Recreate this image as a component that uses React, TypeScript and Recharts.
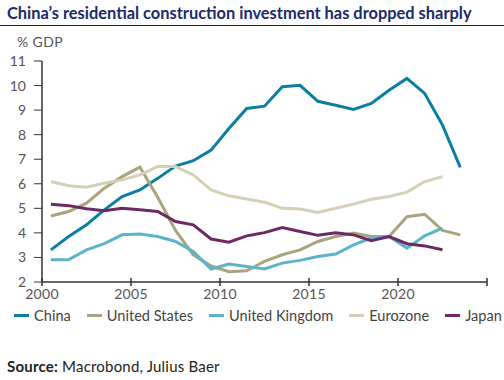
import React from 'react';
import { LineChart, Line, XAxis, YAxis } from 'recharts';

const years = [2000, 2001, 2002, 2003, 2004, 2005, 2006, 2007, 2008, 2009, 2010, 2011,
  2012, 2013, 2014, 2015, 2016, 2017, 2018, 2019, 2020, 2021, 2022, 2023];

const china = [3.31, 3.85, 4.33, 4.94, 5.48, 5.75, 6.22, 6.72, 6.94, 7.37, 8.25, 9.07,
  9.16, 9.95, 10.01, 9.36, 9.2, 9.03, 9.27, 9.81, 10.29, 9.68, 8.39, 6.67];
const unitedStates = [4.69, 4.87, 5.21, 5.82, 6.29, 6.68, 5.45, 4.1, 3.1, 2.65, 2.42, 2.46,
  2.84, 3.11, 3.31, 3.65, 3.85, 3.99, 3.85, 3.85, 4.66, 4.76, 4.1, 3.92];
const unitedKingdom = [2.91, 2.91, 3.31, 3.56, 3.92, 3.95, 3.85, 3.65, 3.24, 2.53, 2.73, 2.63,
  2.53, 2.77, 2.88, 3.04, 3.14, 3.51, 3.79, 3.85, 3.38, 3.88, 4.19];
const eurozone = [6.09, 5.92, 5.86, 6.02, 6.16, 6.36, 6.7, 6.7, 6.36, 5.75, 5.51, 5.38,
  5.25, 5.0, 4.97, 4.83, 5.0, 5.17, 5.37, 5.48, 5.66, 6.09, 6.29];
const japan = [5.17, 5.11, 4.98, 4.9, 5.0, 4.94, 4.87, 4.46, 4.33, 3.75, 3.62, 3.88,
  4.01, 4.22, 4.06, 3.9, 4.01, 3.92, 3.68, 3.85, 3.56, 3.47, 3.31];

const xTicks = [2000, 2005, 2010, 2015, 2020, 2025];
const yTicks = [2, 3, 4, 5, 6, 7, 8, 9, 10, 11];

const SERIES = [
  { key: 'China', values: china, color: '#0b7fa1' },
  { key: 'United States', values: unitedStates, color: '#aaa37b' },
  { key: 'United Kingdom', values: unitedKingdom, color: '#5cb4ca' },
  { key: 'Eurozone', values: eurozone, color: '#d5d0b5' },
  { key: 'Japan', values: japan, color: '#6c2964' },
];

// annual values are plotted mid-year
const data = years.map((y, i) => {
  const row: Record<string, any> = { year: y + 0.5 };
  SERIES.forEach((s) => { row[s.key] = s.values[i]; });
  return row;
});

const FONT = 'Lato, "Open Sans", sans-serif';
const AXIS = '#333';

function XTick(props: any) {
  const { x, y, payload } = props;
  return (
    <g>
      <line x1={x} x2={x} y1={y - 4} y2={y + 4} stroke={AXIS} strokeWidth={1.5} />
      {payload.value !== 2025 && (
        <text x={x} y={y + 13} textAnchor="middle" dominantBaseline="middle" fill="#555" fontSize={14} letterSpacing={0.3} fontFamily={FONT}>
          {payload.value}
        </text>
      )}
    </g>
  );
}

export default function App() {
  return (
    <div style={{ position: 'absolute', left: 0, top: 0, width: 504, height: 380, background: '#fff', fontFamily: FONT }}>
      <div style={{ position: 'absolute', left: 7, top: 3, fontSize: 16.4, fontWeight: 700, color: '#1b2a6b', whiteSpace: 'nowrap' }}>
        China’s residential construction investment has dropped sharply
      </div>
      <div style={{ position: 'absolute', left: 0, top: 25, width: 504, height: 1, background: '#222' }} />
      <div style={{ position: 'absolute', left: 17, top: 33, fontSize: 14, letterSpacing: 0.4, color: '#555' }}>% GDP</div>

      <div style={{ position: 'absolute', left: 0, top: 0 }}>
        <LineChart width={504} height={320} data={data} margin={{ top: 61, right: 17, left: 0, bottom: 0 }}>
          <XAxis
            dataKey="year"
            type="number"
            domain={[2000, 2025]}
            ticks={xTicks}
            height={38}
            tickSize={0}
            tickMargin={0}
            tick={<XTick />}
            axisLine={{ stroke: AXIS, strokeWidth: 1.5 }}
            allowDataOverflow
          />
          <YAxis
            type="number"
            domain={[2, 11]}
            ticks={yTicks}
            width={42}
            tickSize={8}
            tickMargin={8}
            interval={0}
            tick={{ fill: '#555', fontSize: 14, fontFamily: FONT }}
            tickLine={{ stroke: AXIS, strokeWidth: 1 }}
            axisLine={{ stroke: AXIS, strokeWidth: 1.5 }}
          />
          {SERIES.map((s) => (
            <Line
              key={s.key}
              type="linear"
              dataKey={s.key}
              stroke={s.color}
              strokeWidth={3}
              dot={false}
              isAnimationActive={false}
            />
          ))}
        </LineChart>
      </div>

      <div style={{ position: 'absolute', left: 14, top: 307, display: 'flex', alignItems: 'center', fontSize: 14.6, color: '#444', whiteSpace: 'nowrap' }}>
        {SERIES.map((s) => (
          <div key={s.key} style={{ display: 'flex', alignItems: 'center', marginRight: 16 }}>
            <span style={{ display: 'inline-block', width: 15, height: 3, background: s.color, marginRight: 5 }} />
            <span>{s.key}</span>
          </div>
        ))}
      </div>

      <div style={{ position: 'absolute', left: 7, top: 357, fontSize: 15, letterSpacing: 0.2, color: '#222' }}>
        <b>Source:</b> Macrobond, Julius Baer
      </div>
    </div>
  );
}
